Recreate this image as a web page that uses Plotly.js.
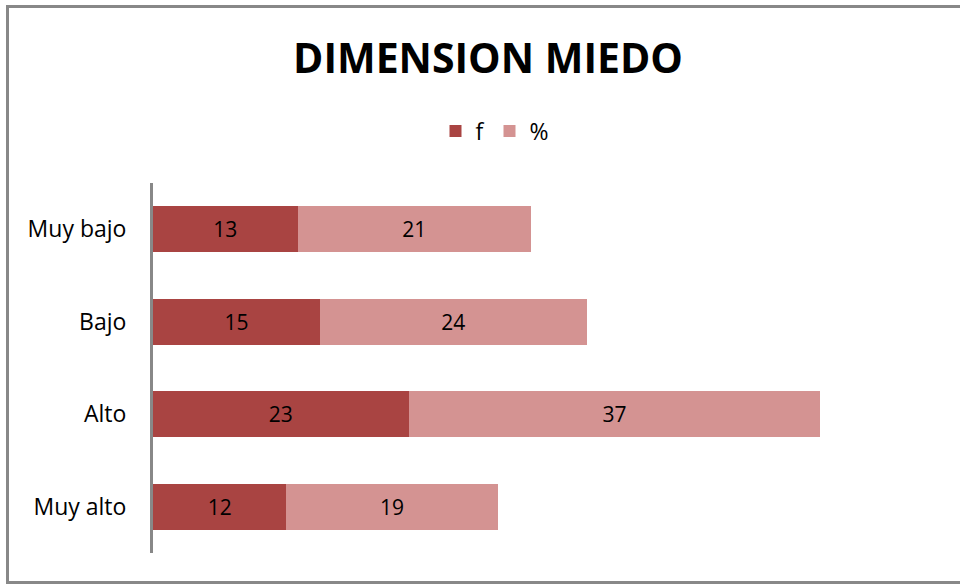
<!DOCTYPE html>
<html>
<head>
<meta charset="utf-8">
<script src="https://cdn.plot.ly/plotly-3.0.1.min.js"></script>
<style>
  html, body { margin: 0; padding: 0; background: #fff; overflow: hidden; }
  #chart { position: absolute; left: 0; top: 0; width: 960px; height: 584px; }
  #frame { position: absolute; left: 6px; top: 5px; width: 1000px; height: 573px;
           border: 3px solid #888888; pointer-events: none; }
</style>
</head>
<body>
<div id="chart"></div>
<div id="frame"></div>
<script>
const categories = ["Muy bajo", "Bajo", "Alto", "Muy alto"];
const fValues = [13, 15, 23, 12];
const pctValues = [21, 24, 37, 19];
const seriesNames = ["f", "%"];

const fontFamily = "Open Sans, Liberation Sans, sans-serif";
const labelFont = { family: fontFamily, size: 21, color: "#000" };

const traces = [
  {
    type: "bar", orientation: "h", name: seriesNames[0],
    y: categories, x: fValues,
    text: fValues.map(String), textposition: "inside", insidetextanchor: "middle",
    textfont: labelFont, constraintext: "none",
    marker: { color: "#A94442" }, hoverinfo: "x+y"
  },
  {
    type: "bar", orientation: "h", name: seriesNames[1],
    y: categories, x: pctValues,
    text: pctValues.map(String), textposition: "inside", insidetextanchor: "middle",
    textfont: labelFont, constraintext: "none",
    marker: { color: "#D49392" }, hoverinfo: "x+y"
  }
];

const layout = {
  width: 960, height: 584,
  paper_bgcolor: "rgba(0,0,0,0)", plot_bgcolor: "rgba(0,0,0,0)",
  margin: { l: 153, r: 31, t: 183, b: 31 },
  barmode: "stack", bargap: 0.5,
  showlegend: true,
  title: {
    text: "<b>DIMENSION MIEDO</b>",
    font: { family: fontFamily, size: 41, color: "#000" },
    x: 488 / 960, xref: "container", xanchor: "center",
    y: 1 - 59 / 584, yref: "container", yanchor: "middle"
  },
  legend: {
    orientation: "h", x: 495 / 960, xref: "container", xanchor: "center",
    y: 1 - 131 / 584, yref: "container", yanchor: "middle",
    font: { family: fontFamily, size: 23, color: "#000" },
    itemwidth: 30, traceorder: "normal", itemclick: false
  },
  xaxis: {
    range: [0, 69.8], showgrid: false, zeroline: false, showline: false,
    showticklabels: false, ticks: "", fixedrange: true
  },
  yaxis: {
    autorange: "reversed", showgrid: false, zeroline: false,
    showline: true, linecolor: "#888888", linewidth: 3,
    ticks: "", ticklabelstandoff: 19,
    tickfont: { family: fontFamily, size: 23, color: "#000" },
    fixedrange: true
  }
};

Plotly.newPlot("chart", traces, layout, { displayModeBar: false, staticPlot: true });
</script>
</body>
</html>
